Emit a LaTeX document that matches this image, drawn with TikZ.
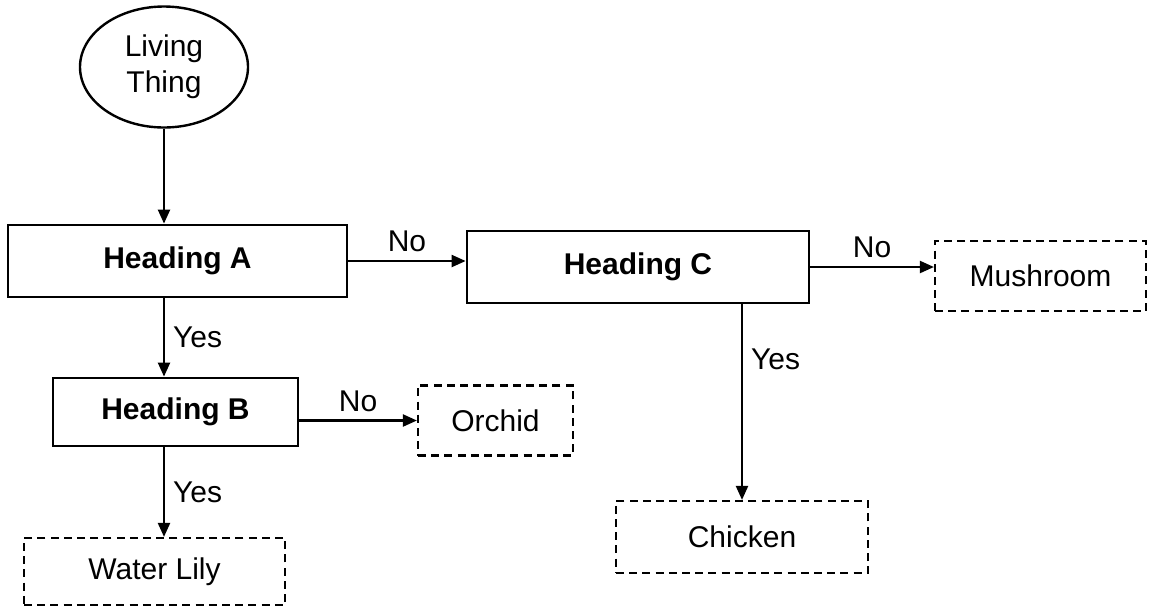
\documentclass[tikz,border=0pt]{standalone}
\usepackage{fontspec}
\setmainfont{Liberation Sans}
\usepackage{tikz}
\usetikzlibrary{arrows.meta,positioning,shapes.geometric}

\begin{document}
\begin{tikzpicture}[
    x=0.5pt, y=-0.5pt,
    font=\fontsize{15}{18}\selectfont,
    start/.style={draw, ellipse, line width=1.2pt, align=center, minimum width=84pt, minimum height=60.5pt, inner sep=0pt},
    heading/.style={draw, line width=1.4pt, font=\fontsize{15}{18}\selectfont\bfseries, minimum height=36pt},
    answer/.style={draw, dash pattern=on 4pt off 2.6pt, line width=1.1pt, minimum height=35pt},
    lbl/.style={inner sep=4pt},
    arr/.style={-{Triangle[length=7pt,width=6pt]}, line width=1.1pt}
]
\useasboundingbox (0,0) rectangle (1149,612);

\node[start] (lt) at (164,67) {Living\\Thing};

% solid question boxes
\node[heading, minimum width=169.5pt] (hA) at (177.5,261) {Heading A};
\node[heading, minimum width=171pt] (hC) at (638,267) {Heading C};
\node[heading, minimum width=122.5pt, minimum height=34pt] (hB) at (175.5,412) {Heading B};

% dashed answer boxes
\node[answer, minimum width=105.5pt] (mush) at (1040.5,276) {Mushroom};
\node[answer, minimum width=77.5pt] (orchid) at (495.5,420.5) {Orchid};
\node[answer, minimum width=130.5pt, minimum height=33.5pt] (lily) at (154.5,571.5) {Water Lily};
\node[answer, minimum width=126pt, minimum height=36pt] (chick) at (742,537) {Chicken};

\draw[arr] (lt.south) -- (lt.south |- hA.north);
\draw[arr] (hA.east) -- node[lbl, above] {No} (hA.east -| hC.west);
\draw[arr] (hC.east) -- node[lbl, above] {No} (hC.east -| mush.west);
\draw[arr] (lt.south |- hA.south) -- node[lbl, right] {Yes} (lt.south |- hB.north);
\draw[arr] (hB.east |- orchid.west) -- node[lbl, above] {No} (orchid.west);
\draw[arr] (lt.south |- hB.south) -- node[lbl, right] {Yes} (lt.south |- lily.north);
\draw[arr] (chick.north |- hC.south) -- node[lbl, right, pos=0.28] {Yes} (chick.north);
\end{tikzpicture}
\end{document}
